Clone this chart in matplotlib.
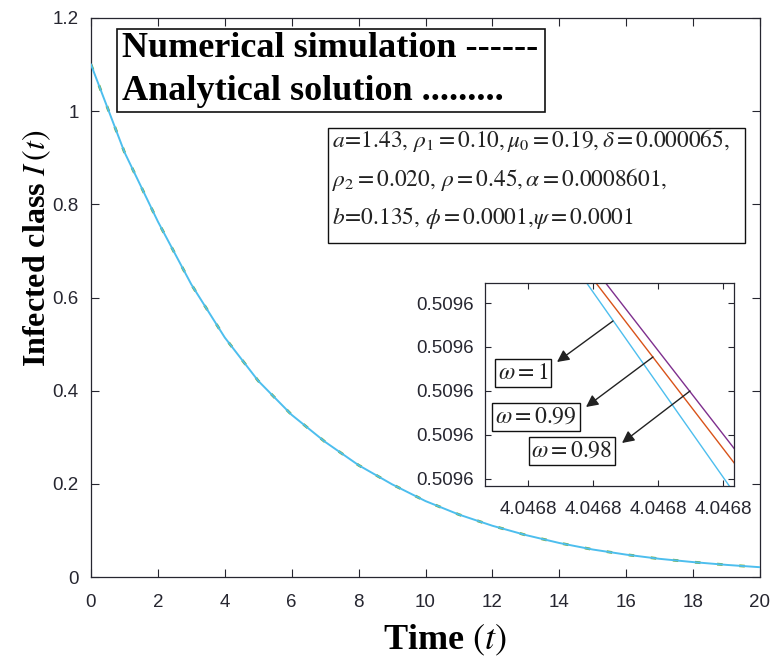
import numpy as np
import matplotlib
matplotlib.use("Agg")
import matplotlib.pyplot as plt
from matplotlib.patches import Rectangle
from matplotlib.ticker import FormatStrFormatter

plt.rcParams['mathtext.fontset'] = 'stix'
plt.rcParams['font.family'] = ['Liberation Sans', 'DejaVu Sans']

# ---------------- data ----------------
time_t = [0, 1, 2, 3, 4, 5, 6, 7, 8, 9, 10, 11, 12, 13, 14, 15, 16, 17, 18, 19, 20]
infected_I = [1.100, 0.912, 0.763, 0.628, 0.514, 0.421, 0.348, 0.290, 0.240, 0.199,
              0.163, 0.134, 0.110, 0.090, 0.073, 0.059, 0.048, 0.039, 0.032, 0.026, 0.021]

inset_t = [4.0468000, 4.0468035]
inset_I_w1 = [0.5096003175, 0.5095999495]    # omega = 1
inset_I_w099 = [0.5096003232, 0.5095999865]  # omega = 0.99
inset_I_w098 = [0.5096003363, 0.5096000032]  # omega = 0.98

main_xticks = [0, 2, 4, 6, 8, 10, 12, 14, 16, 18, 20]
main_yticks = [0, 0.2, 0.4, 0.6, 0.8, 1.0, 1.2]
main_yticklabels = ['0', '0.2', '0.4', '0.6', '0.8', '1', '1.2']
inset_xticks = [4.046800, 4.046801, 4.046802, 4.046803]
inset_yticks = [0.5096, 0.50960005, 0.5096001, 0.50960015, 0.5096002]

omega_labels = [r'$\omega =1$', r'$\omega = 0.99$', r'$\omega = 0.98$']
param_lines = [
    r'$a\!=\!1.43,\,\rho_1=0.10,\mu_0=0.19,\delta=0.000065,$',
    r'$\rho_2=0.020,\,\rho=0.45,\alpha=0.0008601,$',
    r'$b\!=\!0.135,\,\phi=0.0001,\!\psi=0.0001$',
]

# ---------------- figure ----------------
W, H = 770, 670
fig = plt.figure(figsize=(W / 100, H / 100), dpi=100, facecolor='white')


def px(x, y):
    return (x / W, 1 - y / H)


tick_col = '#262630'
CYAN = '#4DBEEE'
ORANGE = '#D95319'
PURPLE = '#7E2F8E'
GREEN = '#77AC30'

ax = fig.add_axes([91 / W, 1 - 577 / H, 669 / W, 559 / H])
ax.plot(time_t, infected_I, color=GREEN, lw=2.0, ls=(0, (2, 6)), zorder=2)
ax.plot(time_t, infected_I, color=CYAN, lw=1.4, zorder=3)
ax.set_xlim(0, 20)
ax.set_ylim(0, 1.2)
ax.set_xticks(main_xticks)
ax.set_yticks(main_yticks)
ax.set_yticklabels(main_yticklabels)
ax.tick_params(direction='in', top=True, right=True, length=6, width=0.8,
               labelsize=13.5, colors=tick_col, pad=9)
ax.tick_params(axis='x', pad=12)
for s in ax.spines.values():
    s.set_color(tick_col)
    s.set_linewidth(0.9)

# inset
axi = fig.add_axes([485 / W, 1 - 486 / H, 249 / W, 203 / H])
axi.plot(inset_t, inset_I_w098, color=PURPLE, lw=1.0)
axi.plot(inset_t, inset_I_w099, color=ORANGE, lw=1.0)
axi.plot(inset_t, inset_I_w1, color=CYAN, lw=1.0)
axi.set_xlim(4.0467993374, 4.0468031674)
axi.set_ylim(0.50959999203, 0.50960022273)
axi.set_xticks(inset_xticks)
axi.set_yticks(inset_yticks)
axi.xaxis.set_major_formatter(FormatStrFormatter('%.4f'))
axi.yaxis.set_major_formatter(FormatStrFormatter('%.4f'))
axi.tick_params(direction='in', top=True, right=True, length=4, width=0.8,
                labelsize=13.5, colors=tick_col, pad=8)
axi.tick_params(axis='x', pad=11)
for s in axi.spines.values():
    s.set_color(tick_col)
    s.set_linewidth(0.9)

# arrows + omega boxes
arrows = [((613, 321), (557, 362)), ((653, 357), (586, 407)), ((690, 391), (622, 443))]
for tail, head in arrows:
    axi.annotate('', xy=px(*head), xycoords='figure fraction',
                 xytext=px(*tail), textcoords='figure fraction',
                 arrowprops=dict(arrowstyle='-|>', color='#222222', lw=1.0,
                                 mutation_scale=18, shrinkA=0, shrinkB=0))
box_centers = [(523, 373), (536, 417), (572, 451)]
for lab, c in zip(omega_labels, box_centers):
    fig.text(*px(*c), lab, ha='center', va='center', fontsize=17, color='#222222',
             bbox=dict(boxstyle='square,pad=0.12', fc='white', ec='#111111', lw=1.0))

# legend-like text box
fig.add_artist(Rectangle(px(117, 112), 428 / W, 83 / H, transform=fig.transFigure,
                         fill=True, fc='white', ec='#111111', lw=1.2, zorder=5))
fig.text(*px(122, 57), 'Numerical simulation ------', ha='left', va='baseline',
         fontsize=26, fontweight='bold', family='Liberation Serif', zorder=6)
fig.text(*px(122, 100), 'Analytical solution .........', ha='left', va='baseline',
         fontsize=26, fontweight='bold', family='Liberation Serif', zorder=6)

# parameter box
fig.add_artist(Rectangle(px(328, 243), 417 / W, 115 / H, transform=fig.transFigure,
                         fill=True, fc='white', ec='#111111', lw=1.0, zorder=5))
for line, yb in zip(param_lines, [147, 186, 224]):
    fig.text(*px(332, yb), line, ha='left', va='baseline', fontsize=16.8,
             color='#222222', zorder=6)

# axis labels
fig.text(*px(445, 640), r'Time $\left(t\right)$', ha='center', va='center',
         fontsize=26, fontweight='bold', family='Liberation Serif')
fig.text(*px(37, 248), r'Infected class $I\,\left(t\right)$', ha='center', va='center',
         rotation=90, fontsize=23, fontweight='bold', family='Liberation Serif')

fig.savefig('out.png', dpi=100, facecolor='white')
